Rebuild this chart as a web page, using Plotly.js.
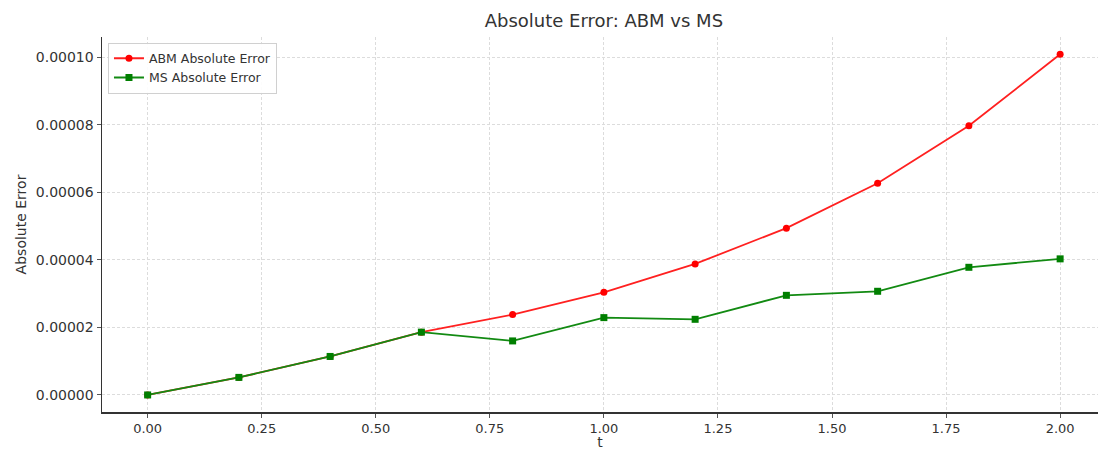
<!DOCTYPE html>
<html>
<head>
<meta charset="utf-8">
<script src="https://cdn.plot.ly/plotly-3.0.1.min.js"></script>
<style>html,body{margin:0;padding:0;background:#fff;}#chart{width:1098px;height:450px;}</style>
</head>
<body>
<div id="chart"></div>
<script>
const t = [0.0, 0.2, 0.4, 0.6, 0.8, 1.0, 1.2, 1.4, 1.6, 1.8, 2.0];
const abmError = [0.0, 5.2e-6, 11.4e-6, 18.6e-6, 23.8e-6, 30.4e-6, 38.8e-6, 49.4e-6, 62.7e-6, 79.7e-6, 100.9e-6];
const msError  = [0.0, 5.2e-6, 11.4e-6, 18.6e-6, 16.0e-6, 22.9e-6, 22.4e-6, 29.5e-6, 30.7e-6, 37.8e-6, 40.3e-6];
const xTicks = [0, 0.25, 0.5, 0.75, 1.0, 1.25, 1.5, 1.75, 2.0];
const xTickLabels = ["0.00","0.25","0.50","0.75","1.00","1.25","1.50","1.75","2.00"];
const yTicks = [0, 0.00002, 0.00004, 0.00006, 0.00008, 0.0001];
const yTickLabels = ["0.00000","0.00002","0.00004","0.00006","0.00008","0.00010"];

const traces = [
  {x: t, y: abmError, name: "ABM Absolute Error", mode: "lines+markers", type: "scatter",
   line: {color: "#ff2020", width: 1.8}, marker: {symbol: "circle", size: 7, color: "#ff0000"}},
  {x: t, y: msError, name: "MS Absolute Error", mode: "lines+markers", type: "scatter",
   line: {color: "#128a12", width: 1.8}, marker: {symbol: "square", size: 7, color: "#007f00"}}
];

const font = "DejaVu Sans, sans-serif";
const layout = {
  width: 1098, height: 450,
  margin: {l: 102, r: 0, t: 37, b: 38},
  paper_bgcolor: "#fff", plot_bgcolor: "#fff",
  font: {family: font, color: "#333", size: 13},
  title: {text: "Absolute Error: ABM vs MS", font: {family: font, size: 18, color: "#333"}, x: 0.55, xanchor: "center", y: 0.955, yanchor: "middle"},
  showlegend: true,
  legend: {x: 0.006, y: 0.985, xanchor: "left", yanchor: "top", bgcolor: "rgba(255,255,255,0.9)",
           bordercolor: "#d0d0d0", borderwidth: 1, font: {family: font, size: 12.5, color: "#333"},
           tracegroupgap: 0, itemwidth: 30},
  xaxis: {range: [-0.1, 2.083], tickvals: xTicks, ticktext: xTickLabels,
          showgrid: true, gridcolor: "#dcdcdc", griddash: "3px,2px", gridwidth: 1,
          zeroline: false, showline: true, linecolor: "#333", linewidth: 1.5,
          ticks: "outside", ticklen: 4, tickcolor: "#555",
          tickfont: {family: font, size: 13, color: "#333"},
          title: {text: "t", font: {family: font, size: 14, color: "#333"}, standoff: 6}},
  yaxis: {range: [-5.05e-6, 106e-6], tickvals: yTicks, ticktext: yTickLabels,
          showgrid: true, gridcolor: "#dcdcdc", griddash: "3px,2px", gridwidth: 1,
          zeroline: false, showline: true, linecolor: "#333", linewidth: 1.5,
          ticks: "outside", ticklen: 4, tickcolor: "#555",
          tickfont: {family: font, size: 14, color: "#333"},
          title: {text: "Absolute Error", font: {family: font, size: 14, color: "#333"}, standoff: 6}}
};
Plotly.newPlot("chart", traces, layout, {displayModeBar: false, staticPlot: true});
</script>
</body>
</html>
